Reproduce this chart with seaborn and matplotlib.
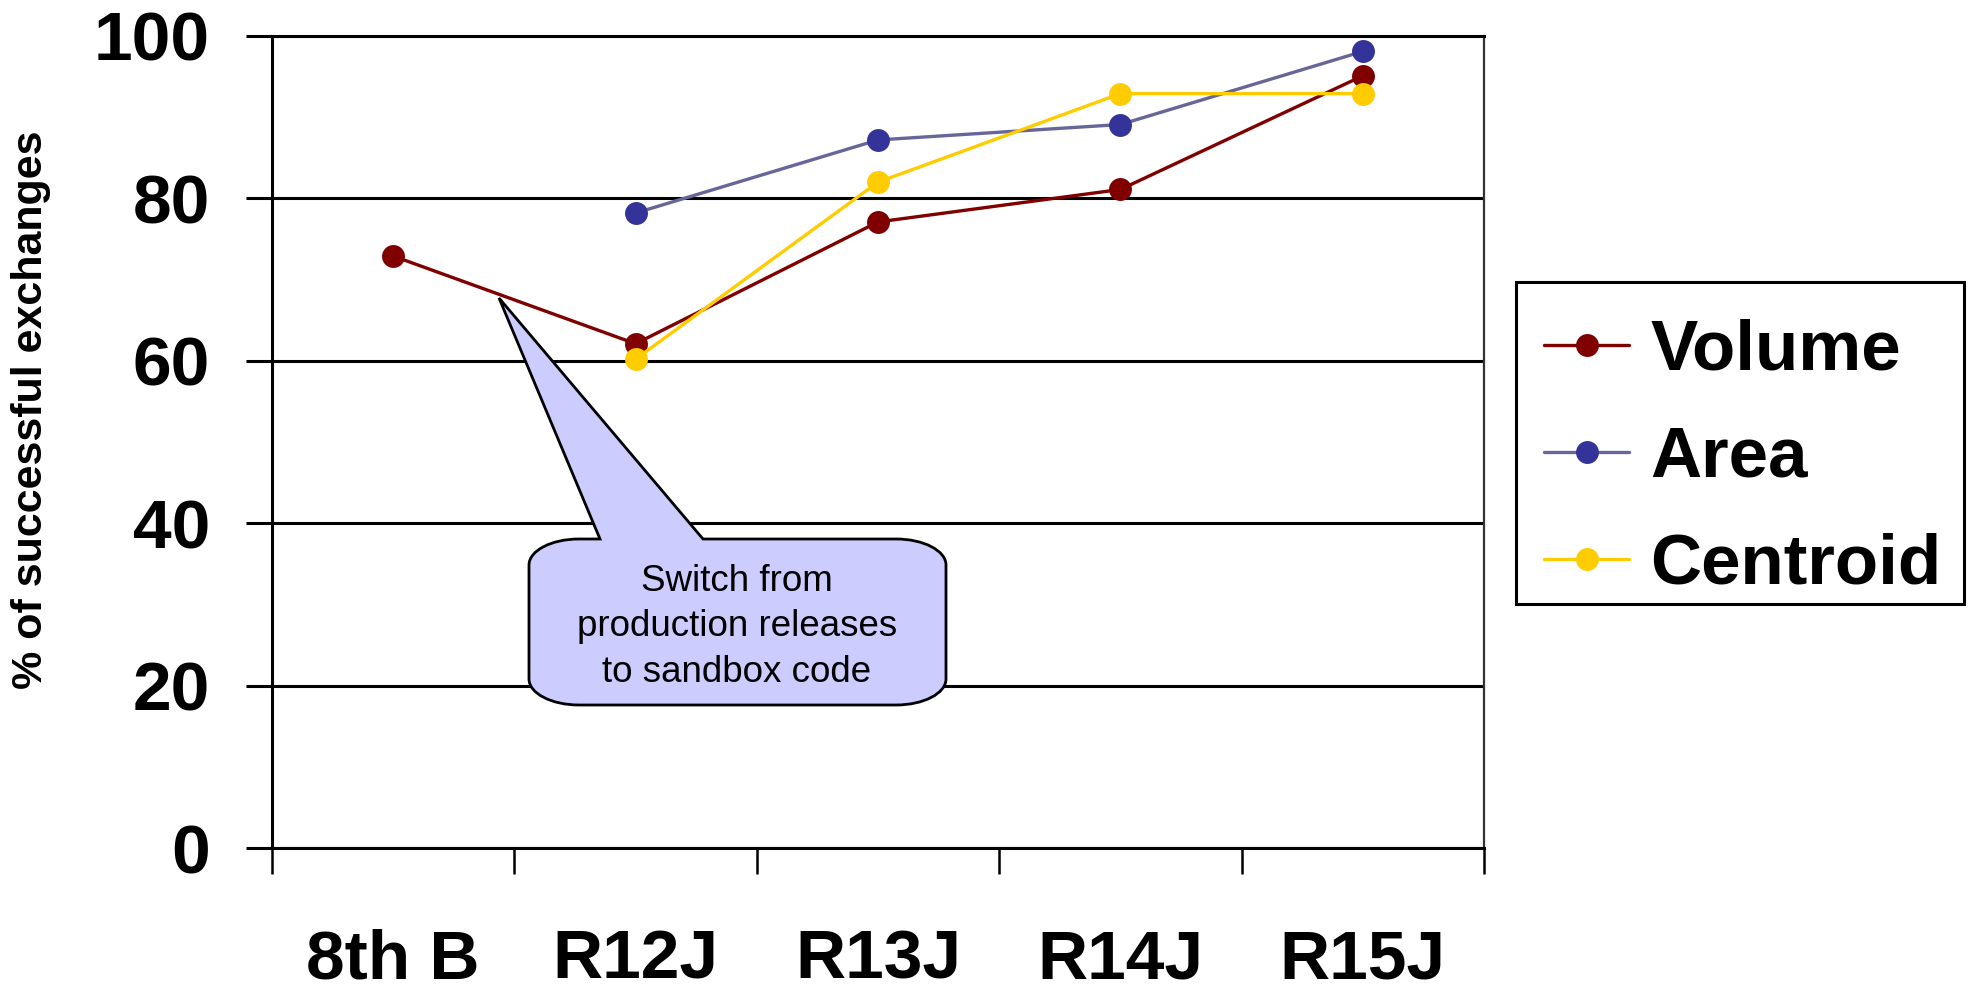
import numpy as np
import pandas as pd
import matplotlib
matplotlib.use("Agg")
import matplotlib.pyplot as plt
from matplotlib.path import Path
from matplotlib.patches import PathPatch, Rectangle
import seaborn as sns

# ---- data -------------------------------------------------------------
categories = ["8th B", "R12J", "R13J", "R14J", "R15J"]
volume = [72.9, 62.1, 77.1, 81.1, 95.1]
area = [np.nan, 78.2, 87.2, 89.1, 98.1]
centroid = [np.nan, 60.2, 82.0, 92.9, 92.9]
series_names = ["Volume", "Area", "Centroid"]
y_ticks = [0, 20, 40, 60, 80, 100]
y_label = "% of successful exchanges"
note_text = "Switch from\nproduction releases\nto sandbox code"

# ---- style ------------------------------------------------------------
sns.set_theme(style="white")
plt.rcParams["font.family"] = ["Liberation Sans", "DejaVu Sans"]
plt.rcParams["text.color"] = "black"
plt.rcParams["axes.labelcolor"] = "black"
plt.rcParams["xtick.color"] = "black"
plt.rcParams["ytick.color"] = "black"

line_colors = {"Volume": "#800000", "Area": "#666699", "Centroid": "#FFCC00"}
marker_colors = {"Volume": "#800000", "Area": "#333399", "Centroid": "#FFCC00"}

W, H = 1970, 992
fig = plt.figure(figsize=(W / 100, H / 100), dpi=100)
ax = fig.add_axes([272 / W, 1 - 848 / H, (1484 - 272) / W, (848 - 36) / H])


def px(x, y):
    """Pixel position (origin top-left) to figure fraction."""
    return (x / W, 1 - y / H)


df = pd.DataFrame({
    "pos": np.tile(np.arange(len(categories)), 3),
    "value": volume + area + centroid,
    "series": np.repeat(series_names, len(categories)),
}).dropna()

for name in series_names:
    sub = df[df["series"] == name]
    sns.lineplot(data=sub, x="pos", y="value", ax=ax, color=line_colors[name],
                 linewidth=2.4, marker="o", markersize=16.5,
                 markerfacecolor=marker_colors[name],
                 markeredgecolor=marker_colors[name], markeredgewidth=0,
                 label=name, zorder=4, legend=False)

# ---- axes -------------------------------------------------------------
ax.set_xlim(-0.5, len(categories) - 0.5)
ax.set_ylim(0, 100)
ax.set_xticks(np.arange(len(categories)))
ax.set_xticklabels(categories)
ax.set_xticks(np.arange(len(categories) + 1) - 0.5, minor=True)
ax.set_yticks(y_ticks)
ax.set_yticklabels([str(v) for v in y_ticks])
ax.set_xlabel("")
ax.set_ylabel("")

ax.tick_params(axis="x", which="major", length=0, pad=58,
               labelsize=50)
ax.tick_params(axis="x", which="minor", length=18.5, width=1.8,
               color="black", direction="out", bottom=True)
ax.tick_params(axis="y", which="major", length=18.5, width=2.2,
               color="black", direction="out", left=True, pad=26,
               labelsize=50)
for lab in ax.get_xticklabels() + ax.get_yticklabels():
    lab.set_fontweight("bold")
    lab.set_color("black")

ax.yaxis.grid(True, color="black", linewidth=2.2)
ax.xaxis.grid(False)
ax.set_axisbelow(True)
for side in ["left", "top", "bottom"]:
    ax.spines[side].set_color("black")
    ax.spines[side].set_linewidth(2.2)
ax.spines["right"].set_color("#333333")
ax.spines["right"].set_linewidth(1.6)

fig.text(31 / W, 1 - 410 / H, y_label, rotation=90, ha="center",
         va="center", fontsize=31, fontweight="bold", color="black")

# ---- legend -----------------------------------------------------------
handles, labels = ax.get_legend_handles_labels()
leg = fig.legend(handles, labels, loc="upper left",
                 bbox_to_anchor=px(1516, 290),
                 bbox_transform=fig.transFigure, borderaxespad=0,
                 fontsize=51, frameon=False,
                 handlelength=1.2, handletextpad=0.3, labelspacing=0.58,
                 borderpad=0.4)
for t in leg.get_texts():
    t.set_fontweight("bold")
    t.set_color("black")
# legend frame drawn as its own box
fx0, fy0 = px(1516, 604)
fx1, fy1 = px(1964, 282)
fig.add_artist(Rectangle((fx0, fy0), fx1 - fx0, fy1 - fy0,
                         transform=fig.transFigure, facecolor="none",
                         edgecolor="black", linewidth=2.2, zorder=1))

# ---- callout ----------------------------------------------------------
L, R, T, B = 529, 946, 539, 705
rx, ry = 50, 26
k = 0.5523
tip = (499, 298)
base_l, base_r = 600, 703
pts = [
    (base_l, T), tip, (base_r, T), (R - rx, T),
    (R - rx + k * rx, T), (R, T + ry - k * ry), (R, T + ry),
    (R, B - ry),
    (R, B - ry + k * ry), (R - rx + k * rx, B), (R - rx, B),
    (L + rx, B),
    (L + rx - k * rx, B), (L, B - ry + k * ry), (L, B - ry),
    (L, T + ry),
    (L, T + ry - k * ry), (L + rx - k * rx, T), (L + rx, T),
    (base_l, T),
]
codes = [Path.MOVETO, Path.LINETO, Path.LINETO, Path.LINETO,
         Path.CURVE4, Path.CURVE4, Path.CURVE4,
         Path.LINETO,
         Path.CURVE4, Path.CURVE4, Path.CURVE4,
         Path.LINETO,
         Path.CURVE4, Path.CURVE4, Path.CURVE4,
         Path.LINETO,
         Path.CURVE4, Path.CURVE4, Path.CURVE4,
         Path.CLOSEPOLY]
callout = PathPatch(Path([px(*p) for p in pts], codes),
                    facecolor="#CCCCFF", edgecolor="black", linewidth=2.0,
                    transform=fig.transFigure, clip_on=False, zorder=3)
ax.add_patch(callout)
ax.text(*px(737, 627), note_text, transform=fig.transFigure, ha="center",
        va="center", fontsize=26.5, linespacing=1.38, color="black",
        zorder=5)

fig.savefig("out.png", dpi=100, facecolor="white")
